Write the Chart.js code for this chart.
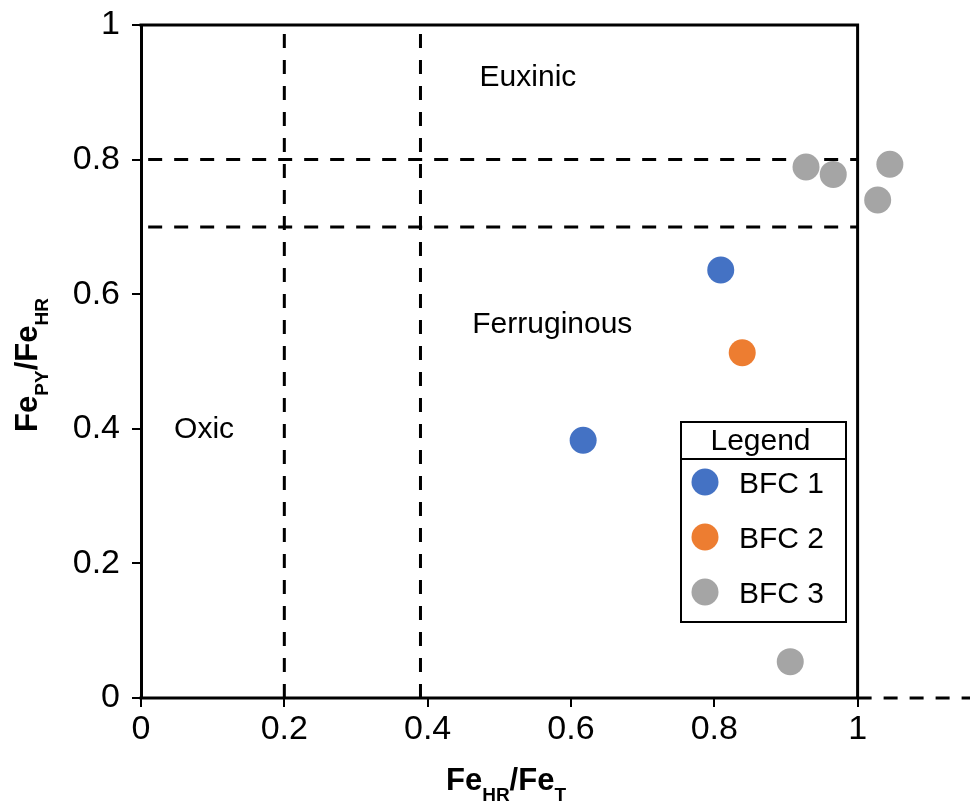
<!DOCTYPE html>
<html lang="en">
<head>
  <meta charset="UTF-8">
  <title>Fe speciation</title>
  <script src="https://cdn.jsdelivr.net/npm/chart.js"></script>
  <style>
    html, body { margin: 0; padding: 0; background: #fff; }
    #wrap { width: 970px; height: 807px; }
  </style>
</head>
<body>
  <div id="wrap"><canvas id="graphCanvas" width="970" height="807"></canvas></div>
  <script>
    // data
    const seriesNames = ['BFC 1', 'BFC 2', 'BFC 3'];
    const seriesColors = ['#4472C4', '#ED7D31', '#A5A5A5'];
    const bfc1 = [{ x: 0.809, y: 0.636 }, { x: 0.617, y: 0.383 }];
    const bfc2 = [{ x: 0.839, y: 0.513 }];
    const bfc3 = [
      { x: 0.928, y: 0.789 }, { x: 0.966, y: 0.778 }, { x: 1.045, y: 0.793 },
      { x: 1.028, y: 0.740 }, { x: 0.906, y: 0.054 }
    ];
    const tickValues = [0, 0.2, 0.4, 0.6, 0.8, 1];
    const vLines = [0.2, 0.39];      // FeHR/FeT thresholds
    const hLines = [0.8, 0.7];       // FePY/FeHR thresholds
    const regionLabels = [
      { text: 'Euxinic', x: 0.54, y: 0.91 },
      { text: 'Ferruginous', x: 0.574, y: 0.542 },
      { text: 'Oxic', x: 0.088, y: 0.386 }
    ];

    const FONT = '"Liberation Sans", Arial, sans-serif';
    const X_END = 1.138;   // axis runs past 1 so outlying samples stay visible
    const ZERO_LINE_END = 1.16;

    const datasets = [];
    [bfc1, bfc2, bfc3].forEach((pts, i) => {
      datasets.push({
        type: 'scatter',
        label: seriesNames[i],
        data: pts,
        backgroundColor: seriesColors[i],
        borderColor: seriesColors[i],
        pointRadius: 13.5,
        pointHoverRadius: 13.5,
        borderWidth: 0,
        clip: false,
        order: 0
      });
    });
    const dash = (data) => ({
      type: 'line', data: data, borderColor: '#000', borderWidth: 3,
      borderDash: [14, 12], pointRadius: 0, fill: false, clip: false,
      order: 5
    });
    vLines.forEach(v => datasets.push(dash([{ x: v, y: 0 }, { x: v, y: 0.99 }])));
    hLines.forEach(h => datasets.push(dash([{ x: 0.01, y: h }, { x: 1, y: h }])));
    datasets.push(dash([{ x: 1, y: 0 }, { x: ZERO_LINE_END, y: 0 }]));

    const frame = {
      id: 'frame',
      afterDatasetsDraw(chart) {
        const { ctx, chartArea: a, scales } = chart;
        const x0 = scales.x.getPixelForValue(0), x1 = scales.x.getPixelForValue(1);
        ctx.save();
        ctx.strokeStyle = '#000';
        ctx.lineWidth = 3;
        ctx.lineCap = 'square';
        ctx.beginPath();
        ctx.moveTo(x0, a.top); ctx.lineTo(x1, a.top);
        ctx.lineTo(x1, a.bottom);
        ctx.lineTo(x0, a.bottom);
        ctx.stroke();

        // region names
        ctx.fillStyle = '#000';
        ctx.font = '30px ' + FONT;
        ctx.textAlign = 'center';
        ctx.textBaseline = 'alphabetic';
        regionLabels.forEach(r => {
          ctx.fillText(r.text, scales.x.getPixelForValue(r.x), scales.y.getPixelForValue(r.y));
        });

        // legend box
        const lx = 681, ly = 422, lw = 165, lh = 200, hh = 37;
        ctx.fillStyle = '#fff';
        ctx.fillRect(lx, ly, lw, lh);
        ctx.lineWidth = 2;
        ctx.lineCap = 'butt';
        ctx.strokeRect(lx, ly, lw, lh);
        ctx.beginPath();
        ctx.moveTo(lx, ly + hh); ctx.lineTo(lx + lw, ly + hh);
        ctx.stroke();
        ctx.fillStyle = '#000';
        ctx.font = '30px ' + FONT;
        ctx.fillText('Legend', lx + lw / 2 - 3, ly + 28);
        ctx.textAlign = 'left';
        seriesNames.forEach((name, i) => {
          const cy = ly + 60 + i * 55;
          ctx.fillStyle = seriesColors[i];
          ctx.beginPath();
          ctx.arc(lx + 24, cy, 13.5, 0, Math.PI * 2);
          ctx.fill();
          ctx.fillStyle = '#000';
          ctx.fillText(name, lx + 58, cy + 11);
        });

        // axis titles with subscripts
        const sub = (parts, x, y, rot) => {
          ctx.save();
          ctx.translate(x, y);
          ctx.rotate(rot);
          let w = 0;
          parts.forEach(p => {
            ctx.font = 'bold ' + (p.s ? 19 : 31) + 'px ' + FONT;
            w += ctx.measureText(p.t).width;
          });
          let cx = -w / 2;
          ctx.textAlign = 'left';
          ctx.textBaseline = 'alphabetic';
          ctx.fillStyle = '#000';
          parts.forEach(p => {
            ctx.font = 'bold ' + (p.s ? 19 : 31) + 'px ' + FONT;
            ctx.fillText(p.t, cx, p.s ? 11 : 0);
            cx += ctx.measureText(p.t).width;
          });
          ctx.restore();
        };
        sub([{ t: 'Fe' }, { t: 'HR', s: 1 }, { t: '/Fe' }, { t: 'T', s: 1 }], 506, 790, 0);
        sub([{ t: 'Fe' }, { t: 'PY', s: 1 }, { t: '/Fe' }, { t: 'HR', s: 1 }], 37, 365, -Math.PI / 2);
        ctx.restore();
      }
    };

    const tickFmt = (v) => {
      const r = Math.round(v * 10) / 10;
      return tickValues.includes(r) ? String(r) : '';
    };

    const myChart = new Chart(document.getElementById('graphCanvas').getContext('2d'), {
      data: { datasets: datasets },
      plugins: [frame],
      options: {
        responsive: false,
        animation: false,
        layout: { padding: { top: 25, right: 0, left: 0, bottom: 0 } },
        plugins: { legend: { display: false }, tooltip: { enabled: false } },
        scales: {
          x: {
            type: 'linear', min: 0, max: X_END,
            afterFit: (s) => { s.height = 109; s.paddingLeft = 0; s.paddingRight = 0; },
            border: { display: false },
            grid: { drawOnChartArea: false, drawTicks: true, tickLength: 9, color: '#000', lineWidth: 2 },
            ticks: { stepSize: 0.2, includeBounds: false, color: '#000', padding: 2, font: { family: FONT, size: 34 }, callback: tickFmt, maxRotation: 0, autoSkip: false }
          },
          y: {
            type: 'linear', min: 0, max: 1,
            afterFit: (s) => { s.width = 141; s.paddingTop = 0; s.paddingBottom = 0; },
            border: { display: true, color: '#000', width: 3 },
            grid: { drawOnChartArea: false, drawTicks: true, tickLength: 9, color: '#000', lineWidth: 2 },
            ticks: { stepSize: 0.2, color: '#000', padding: 12, font: { family: FONT, size: 34 }, callback: tickFmt }
          }
        }
      }
    });
  </script>
</body>
</html>
